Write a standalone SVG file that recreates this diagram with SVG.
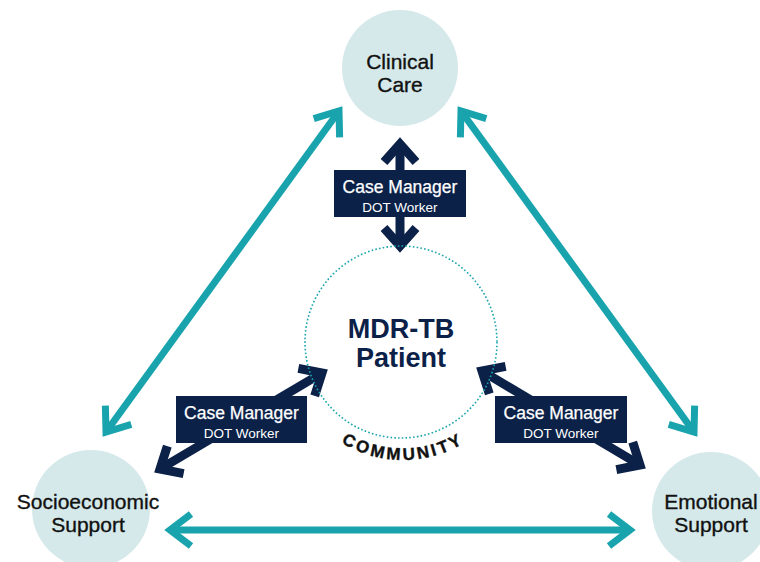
<svg xmlns="http://www.w3.org/2000/svg" width="760" height="562" viewBox="0 0 760 562">
  <style>
    .node { fill: #d5e9ea; }
    .label { font-family: "Liberation Sans", Arial, sans-serif; font-size: 21px; fill: #111; stroke: #111; stroke-width: 0.35; text-anchor: middle; }
    .teal { fill: none; stroke: #19a4ad; stroke-width: 7; }
    .navy { fill: none; stroke: #0b2148; stroke-width: 9; }
    .box { fill: #0b2148; }
    .role { font-family: "Liberation Sans", Arial, sans-serif; fill: #fff; text-anchor: middle; }
    .role1 { font-size: 17.5px; stroke: #fff; stroke-width: 0.25; }
    .role2 { font-size: 13.5px; }
    .center { font-family: "Liberation Sans", Arial, sans-serif; font-size: 27px; font-weight: bold; fill: #0b2148; text-anchor: middle; }
    .ring { fill: none; stroke: #19a4ad; stroke-width: 1.6; stroke-dasharray: 1.6 2.2; }
    .community { font-family: "Liberation Sans", Arial, sans-serif; font-size: 17px; font-weight: bold; fill: #111; stroke: #111; stroke-width: 0.4; letter-spacing: 2.8px; }
  </style>
  <defs>
    <marker id="headTeal" markerUnits="userSpaceOnUse" orient="auto-start-reverse" refX="0" refY="0" markerWidth="60" markerHeight="60" viewBox="-30 -30 60 60" overflow="visible">
      <path d="M-21,-16 L0,0 L-21,16" fill="none" stroke="#19a4ad" stroke-width="7" stroke-miterlimit="10"/>
    </marker>
    <marker id="headNavy" markerUnits="userSpaceOnUse" orient="auto-start-reverse" refX="0" refY="0" markerWidth="60" markerHeight="60" viewBox="-30 -30 60 60" overflow="visible">
      <path d="M-18,-16 L0,0 L-18,16" fill="none" stroke="#0b2148" stroke-width="9" stroke-miterlimit="10"/>
    </marker>
    <path id="communityArc" d="M285,342 A118,118 0 0 0 521,342"/>
  </defs>

  <!-- outer care triangle and case-manager links -->
  <g id="connectors">
    <path class="teal" d="M339,111 L106,432" marker-start="url(#headTeal)" marker-end="url(#headTeal)"/>
    <path class="teal" d="M461,111 L694,432" marker-start="url(#headTeal)" marker-end="url(#headTeal)"/>
    <path class="teal" d="M170,530 L630,530" marker-start="url(#headTeal)" marker-end="url(#headTeal)"/>
    <path class="navy" d="M400,144 L400,246" marker-start="url(#headNavy)" marker-end="url(#headNavy)"/>
    <path class="navy" d="M322,373 L160,469" marker-start="url(#headNavy)" marker-end="url(#headNavy)"/>
    <path class="navy" d="M482,371 L640,465" marker-start="url(#headNavy)" marker-end="url(#headNavy)"/>
  </g>

  <g id="clinical-care">
    <circle class="node" cx="400" cy="68" r="58"/>
    <text class="label" x="400" y="69">Clinical</text>
    <text class="label" x="400" y="92">Care</text>
  </g>

  <g id="socioeconomic-support">
    <circle class="node" cx="91" cy="509" r="59"/>
    <text class="label" x="88" y="509">Socioeconomic</text>
    <text class="label" x="88" y="532">Support</text>
  </g>

  <g id="emotional-support">
    <circle class="node" cx="711" cy="511" r="59"/>
    <text class="label" x="711" y="509">Emotional</text>
    <text class="label" x="711" y="532">Support</text>
  </g>

  <g id="patient">
    <circle class="ring" cx="401" cy="342" r="96"/>
    <text class="center" x="401" y="338">MDR-TB</text>
    <text class="center" x="401" y="367">Patient</text>
    <text class="community"><textPath href="#communityArc" startOffset="50%" text-anchor="middle">COMMUNITY</textPath></text>
  </g>

  <g id="case-manager-top">
    <rect class="box" x="334" y="170" width="132" height="47"/>
    <text class="role role1" x="400" y="193">Case Manager</text>
    <text class="role role2" x="400" y="212">DOT Worker</text>
  </g>

  <g id="case-manager-left">
    <rect class="box" x="176" y="396" width="131" height="47"/>
    <text class="role role1" x="241.5" y="419">Case Manager</text>
    <text class="role role2" x="241.5" y="438">DOT Worker</text>
  </g>

  <g id="case-manager-right">
    <rect class="box" x="495" y="396" width="132" height="47"/>
    <text class="role role1" x="561" y="419">Case Manager</text>
    <text class="role role2" x="561" y="438">DOT Worker</text>
  </g>
</svg>
